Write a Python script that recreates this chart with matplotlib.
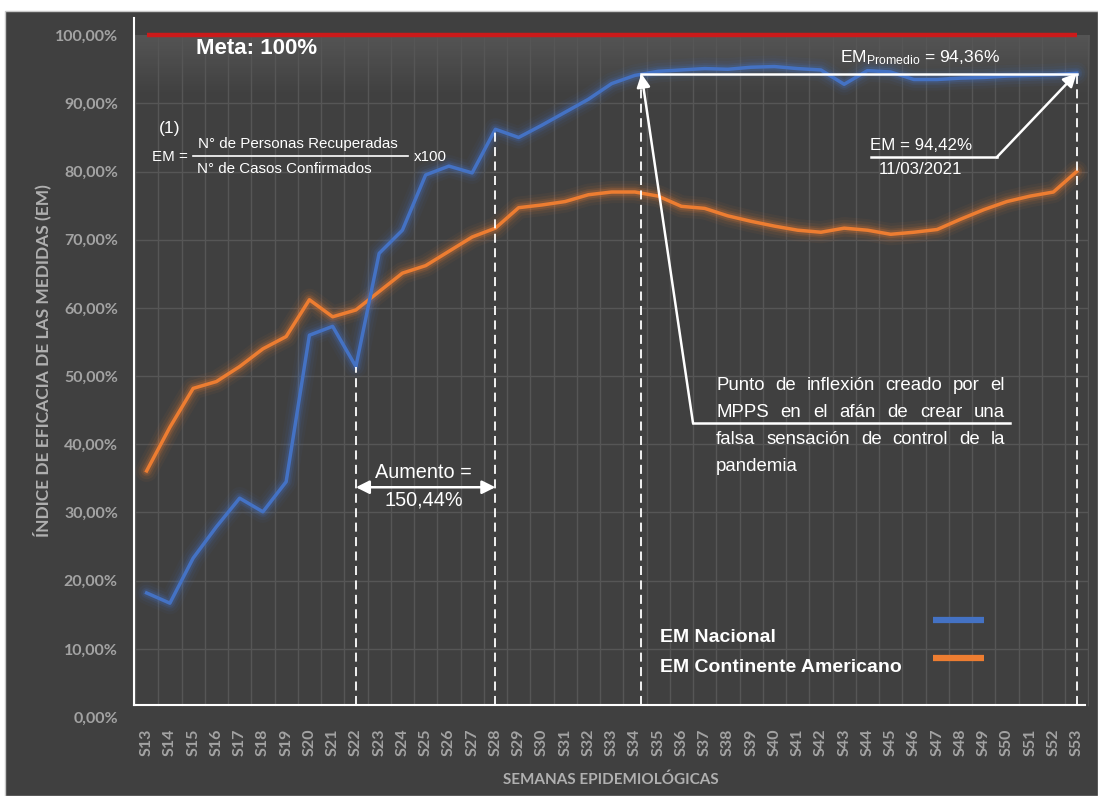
import matplotlib
matplotlib.use("Agg")
import matplotlib.pyplot as plt
from matplotlib import font_manager as fm
from matplotlib.patches import Rectangle, FancyArrowPatch
from matplotlib.lines import Line2D
import numpy as np

# ---------------- data ----------------
weeks = [f"S{i}" for i in range(13, 54)]
em_nacional = [18.2, 16.7, 23.3, 27.9, 32.1, 30.1, 34.5, 56.0, 57.3, 51.4,
               68.0, 71.4, 79.5, 80.8, 79.8, 86.2, 85.0, 86.8, 88.7, 90.6,
               92.9, 94.1, 94.7, 94.9, 95.1, 95.0, 95.3, 95.4, 95.1, 94.9,
               92.8, 94.8, 94.6, 93.5, 93.5, 93.7, 93.8, 94.0, 94.1, 94.2,
               94.42]
em_continente = [36.1, 42.5, 48.2, 49.2, 51.4, 54.0, 55.8, 61.2, 58.7, 59.7,
                 62.4, 65.1, 66.2, 68.3, 70.4, 71.7, 74.7, 75.1, 75.6, 76.6,
                 77.0, 77.0, 76.4, 74.9, 74.6, 73.5, 72.7, 72.0, 71.4, 71.1,
                 71.7, 71.4, 70.8, 71.1, 71.5, 73.0, 74.4, 75.6, 76.4, 77.0,
                 80.0]
meta = 100.0
em_promedio = 94.36
y_ticks = [0, 10, 20, 30, 40, 50, 60, 70, 80, 90, 100]
y_tick_labels = ["0,00%", "10,00%", "20,00%", "30,00%", "40,00%", "50,00%",
                 "60,00%", "70,00%", "80,00%", "90,00%", "100,00%"]

# ---------------- style ----------------
W, H = 1098, 796
BG = "#404040"
TICK_C = "#a3a3a3"
TITLE_C = "#b0b0b0"
GRID_C = "#565656"
BLUE = "#4472c4"
ORANGE = "#ed7d31"
RED = "#cc1a1a"

available = {f.name for f in fm.fontManager.ttflist}
NARROW_OK = "Liberation Sans Narrow" in available
NARROW = "Liberation Sans Narrow" if NARROW_OK else "Liberation Sans"
ARIAL = "Liberation Sans"
UIFONT = "Lato" if "Lato" in available else "DejaVu Sans"


def nsize(s):
    """size for condensed annotation text; plain Arial-metric face runs wider"""
    return s if NARROW_OK else s * 0.84


plt.rcParams["mathtext.fontset"] = "custom"
plt.rcParams["mathtext.rm"] = NARROW
plt.rcParams["mathtext.it"] = NARROW


def fp(x, y):
    """pixel position (from top-left) to figure fraction"""
    return x / W, 1 - y / H


fig = plt.figure(figsize=(W / 100, H / 100), dpi=100)
fig.patch.set_facecolor("white")
fig.add_artist(Rectangle(fp(5, 796), 1093 / W, 785 / H, transform=fig.transFigure,
                         facecolor=BG, edgecolor="#c8c8c8", lw=1.0, zorder=-10))

ax = fig.add_axes([0.1219, 0.0992, 0.8703, 0.8566])
ax.patch.set_alpha(0)
x = np.arange(len(weeks))
x0, x1 = -0.55, 40.55
ax.set_xlim(x0, x1)
ax.set_ylim(0, 100)
for s in ax.spines.values():
    s.set_visible(False)

axis_y = 1.76  # level of the drawn category axis

# soft light band under the goal line
grad = np.zeros((100, 2, 4))
grad[..., :3] = 1.0
grad[..., 3] = np.linspace(0.11, 0.0, 100)[:, None]
ax.imshow(grad, extent=(x0, x1, 91, 100), aspect="auto", origin="upper", zorder=0.5)

# grid
for gx in np.arange(-0.5, 41, 1.0):
    ax.plot([gx, gx], [axis_y, 100], color=GRID_C, lw=1.0, zorder=1)
for gy in y_ticks[1:-1]:
    ax.plot([x0, x1], [gy, gy], color=GRID_C, lw=1.0, zorder=1)

# axis lines
ax.plot([x0, x1 - 0.2], [axis_y, axis_y], color="white", lw=1.5, zorder=3, clip_on=False)
ax.plot([x0, x0], [axis_y, 102.5], color="white", lw=1.5, zorder=3, clip_on=False)

# goal line
ax.plot([x[0], x[-1]], [meta, meta], color=RED, lw=3.2, zorder=4,
        solid_capstyle="butt", clip_on=False)


def glow_line(vals, color):
    for lw, a in [(16, 0.05), (12, 0.08), (8, 0.13), (5.5, 0.2)]:
        ax.plot(x, vals, color=color, lw=lw, alpha=a, zorder=4,
                solid_joinstyle="round", solid_capstyle="round")
    ax.plot(x, vals, color=color, lw=2.5, zorder=5, solid_joinstyle="round")


glow_line(em_continente, ORANGE)
glow_line(em_nacional, BLUE)

# ticks
ax.set_yticks(y_ticks)
ax.set_yticklabels(y_tick_labels)
ax.set_xticks(x)
ax.set_xticklabels(weeks, rotation=90)
ax.tick_params(axis="both", length=0, colors=TICK_C)
ax.tick_params(axis="y", pad=11.5)
ax.tick_params(axis="x", pad=8)
for lab in ax.get_yticklabels():
    lab.set_fontfamily(UIFONT)
    lab.set_fontsize(11.5)
    lab.set_fontweight("bold")
for lab in ax.get_xticklabels():
    lab.set_fontfamily(UIFONT)
    lab.set_fontsize(11.5)
    lab.set_fontweight("bold")

fig.text(*fp(611, 780), "SEMANAS EPIDEMIOLÓGICAS", ha="center", va="center",
         color=TITLE_C, fontsize=11, fontweight="bold", family=UIFONT)
fig.text(*fp(42, 361), "ÍNDICE DE EFICACIA DE LAS MEDIDAS (EM)", ha="center", va="center",
         rotation=90, color=TITLE_C, fontsize=12.5, fontweight="bold", family=UIFONT)

# ---------------- annotations ----------------
WHITE = "white"
dash = (0, (5, 3))

# vertical markers
i22, i28, i53 = weeks.index("S22"), weeks.index("S28"), weeks.index("S53")
x_infl = 21.28
ax.plot([i22, i22], [axis_y, em_nacional[i22]], color=WHITE, lw=1.3, ls=dash, zorder=6)
ax.plot([i28, i28], [axis_y, em_nacional[i28]], color=WHITE, lw=1.3, ls=dash, zorder=6)
ax.plot([x_infl, x_infl], [axis_y, em_promedio], color=WHITE, lw=1.3, ls=dash, zorder=6)
ax.plot([i53, i53], [axis_y, em_promedio], color=WHITE, lw=1.3, ls=dash, zorder=6)

# average level
ax.plot([x_infl, i53], [em_promedio, em_promedio], color=WHITE, lw=1.8, zorder=7)

# increase arrow
ax.add_patch(FancyArrowPatch((i22, 33.7), (i28, 33.7), arrowstyle="<|-|>",
                             mutation_scale=20, color=WHITE, lw=1.8, zorder=7,
                             shrinkA=0, shrinkB=0))
ax.text(11.9, 35.9, "Aumento =", ha="center", va="center", color=WHITE,
        fontsize=nsize(17), family=NARROW, zorder=8)
ax.text(11.9, 31.8, "150,44%", ha="center", va="center", color=WHITE,
        fontsize=nsize(17), family=NARROW, zorder=8)

# inflection arrow
bend = (23.5, 43.1)
ax.plot([bend[0], 37.13], [bend[1], bend[1]], color=WHITE, lw=1.8, zorder=7)
ax.add_patch(FancyArrowPatch(bend, (x_infl, em_promedio), arrowstyle="-|>",
                             mutation_scale=20, color=WHITE, lw=1.8, zorder=7,
                             shrinkA=0, shrinkB=0))

# last value arrow
last_bend = (36.56, 82.08)
ax.plot([31.14, last_bend[0]], [last_bend[1], last_bend[1]], color=WHITE, lw=1.8, zorder=7)
ax.add_patch(FancyArrowPatch(last_bend, (i53, em_nacional[i53]), arrowstyle="-|>",
                             mutation_scale=20, color=WHITE, lw=1.8, zorder=7,
                             shrinkA=0, shrinkB=0))
fig.text(*fp(921, 145), "EM = 94,42%", ha="center", va="center", color=WHITE,
         fontsize=nsize(14.5), family=NARROW)
fig.text(*fp(921, 169), "11/03/2021", ha="center", va="center", color=WHITE,
         fontsize=nsize(14.5), family=NARROW)

fig.text(*fp(840, 58), r"EM$_{\mathrm{Promedio}}$ = 94,36%", ha="left", va="center",
         color=WHITE, fontsize=nsize(15), family=NARROW)

fig.text(*fp(196, 49), "Meta: 100%", ha="left", va="center", color=WHITE,
         fontsize=16, fontweight="bold", family=ARIAL)

# formula
fsz = nsize(13)
fig.text(*fp(170, 128), "(1)", ha="center", va="center", color=WHITE, fontsize=nsize(15), family=NARROW)
fig.text(*fp(152, 157), "EM =", ha="left", va="center", color=WHITE, fontsize=fsz, family=NARROW)
fig.text(*fp(298, 144), "N° de Personas Recuperadas", ha="center", va="center",
         color=WHITE, fontsize=fsz, family=NARROW)
fig.text(*fp(197, 169), "N° de Casos Confirmados", ha="left", va="center",
         color=WHITE, fontsize=fsz, family=NARROW)
fig.add_artist(Line2D([193 / W, 408 / W], [1 - 156 / H, 1 - 156 / H],
                      transform=fig.transFigure, color=WHITE, lw=1.2))
fig.text(*fp(414, 157), "x100", ha="left", va="center", color=WHITE, fontsize=fsz, family=NARROW)

# justified note
renderer = fig.canvas.get_renderer()
note = [("Punto de inflexión creado por el", True),
        ("MPPS en el afán de crear una", True),
        ("falsa sensación de control de la", True),
        ("pandemia", False)]
nx0, nx1, ny0, ndy = 716, 1005, 385, 27.2
for k, (line, justify) in enumerate(note):
    words = line.split()
    texts = [fig.text(0, 0, w, ha="left", va="center", color=WHITE,
                      fontsize=nsize(16), family=NARROW) for w in words]
    widths = [t.get_window_extent(renderer).width for t in texts]
    gap = (nx1 - nx0 - sum(widths)) / (len(words) - 1) if justify and len(words) > 1 else 5
    px = nx0
    for t, w in zip(texts, widths):
        t.set_position(fp(px, ny0 + k * ndy))
        px += w + gap

# legend
fig.text(*fp(660, 638), "EM Nacional", ha="left", va="center", color=WHITE,
         fontsize=14, fontweight="bold", family=ARIAL)
fig.text(*fp(660, 667), "EM Continente Americano", ha="left", va="center", color=WHITE,
         fontsize=14, fontweight="bold", family=ARIAL)
fig.add_artist(Line2D([933 / W, 984 / W], [1 - 620 / H] * 2, transform=fig.transFigure,
                      color=BLUE, lw=4.5, solid_capstyle="butt"))
fig.add_artist(Line2D([933 / W, 984 / W], [1 - 658 / H] * 2, transform=fig.transFigure,
                      color=ORANGE, lw=4.5, solid_capstyle="butt"))

fig.savefig("out.png", dpi=100, facecolor=fig.get_facecolor())
